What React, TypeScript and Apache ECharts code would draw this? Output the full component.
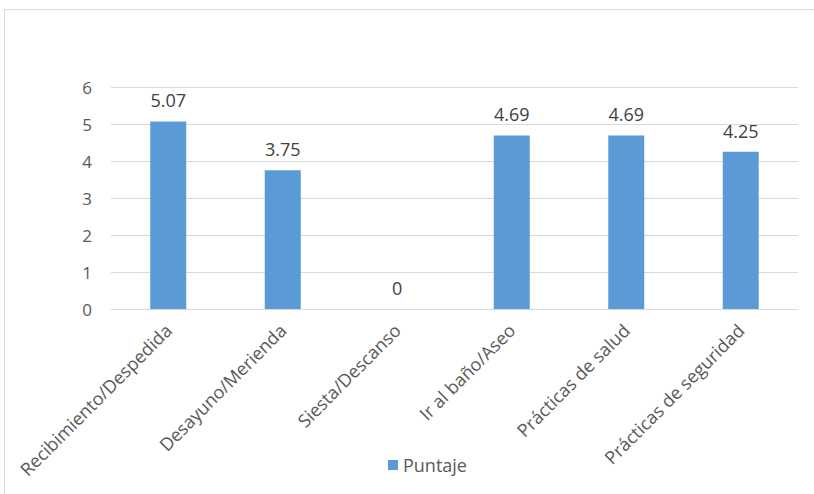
import React, { useEffect, useRef } from "react";
import * as echarts from "echarts";

const categories = [
  "Recibimiento/Despedida",
  "Desayuno/Merienda",
  "Siesta/Descanso",
  "Ir al baño/Aseo",
  "Prácticas de salud",
  "Prácticas de seguridad",
];
const puntaje = [5.07, 3.75, 0, 4.69, 4.69, 4.25];
const seriesName = "Puntaje";

const FONT = "'Open Sans', 'Liberation Sans', sans-serif";

export default function App() {
  const ref = useRef<HTMLDivElement>(null);
  useEffect(() => {
    if (!ref.current) return;
    const chart = echarts.init(ref.current, null, { renderer: "svg" });
    chart.setOption({
      animation: false,
      backgroundColor: "#ffffff",
      textStyle: { fontFamily: FONT },
      graphic: [
        {
          type: "rect",
          shape: { x: 4.5, y: 9.5, width: 840, height: 520 },
          style: { fill: "none", stroke: "#d9d9d9", lineWidth: 1 },
          silent: true,
        },
      ],
      grid: { left: 111, right: 16, top: 87, bottom: 185, containLabel: false },
      legend: {
        data: [seriesName],
        left: 383,
        top: 451,
        icon: "rect",
        itemWidth: 10,
        itemHeight: 10,
        itemGap: 6,
        textStyle: { color: "#595959", fontSize: 18, fontFamily: FONT },
      },
      xAxis: {
        type: "category",
        data: categories,
        axisLine: { show: true, lineStyle: { color: "#d9d9d9", width: 1 } },
        axisTick: { show: false },
        axisLabel: {
          rotate: 45,
          interval: 0,
          margin: 18,
          color: "#595959",
          fontSize: 18,
          fontFamily: FONT,
        },
      },
      yAxis: {
        type: "value",
        min: 0,
        max: 6,
        interval: 1,
        axisLine: { show: false },
        axisTick: { show: false },
        splitLine: { lineStyle: { color: "#d9d9d9", width: 1 } },
        axisLabel: { color: "#595959", fontSize: 17, margin: 19, fontFamily: FONT },
      },
      series: [
        {
          name: seriesName,
          type: "bar",
          data: puntaje,
          barWidth: 36,
          itemStyle: { color: "#5b9bd5" },
          label: {
            show: true,
            position: "top",
            distance: 12,
            color: "#404040",
            fontSize: 18,
            fontFamily: FONT,
          },
        },
      ],
    });
    return () => chart.dispose();
  }, []);
  return (
    <div
      ref={ref}
      style={{ position: "fixed", left: 0, top: 0, width: 814, height: 494 }}
    />
  );
}
